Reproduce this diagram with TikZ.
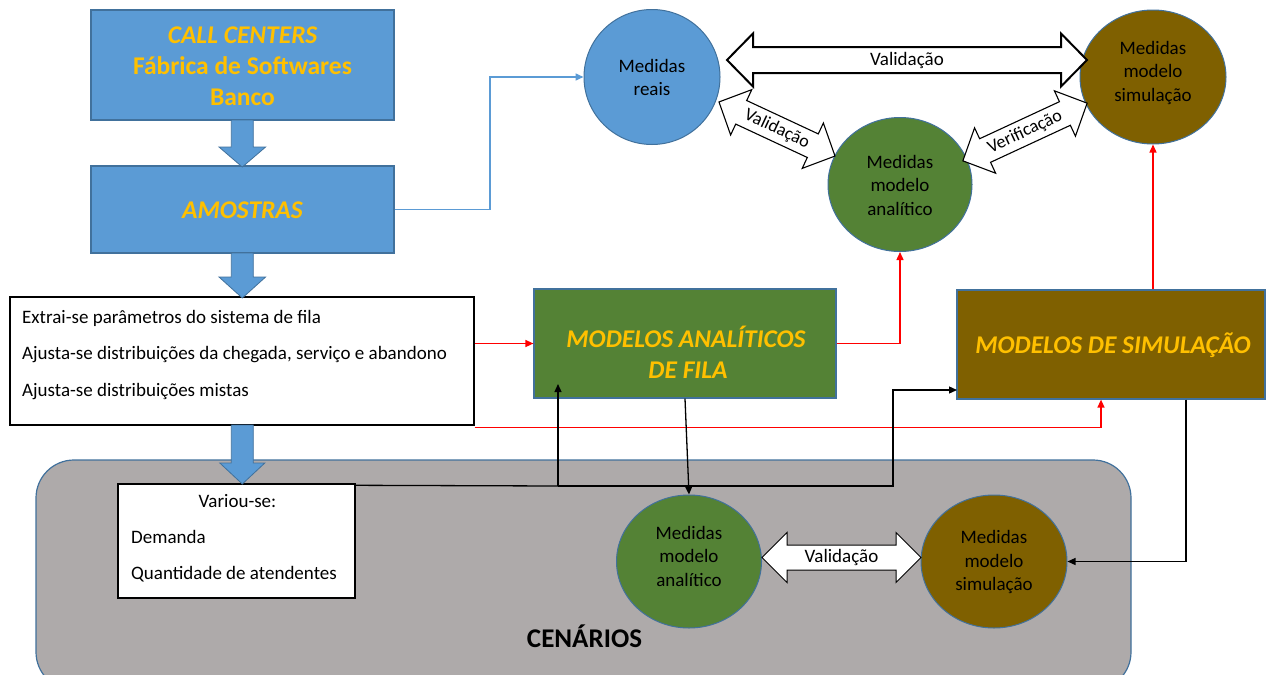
\documentclass[tikz,border=0pt]{standalone}
\usepackage{fontspec}
\setmainfont{Carlito}
\usetikzlibrary{shapes.geometric,arrows.meta,calc}
\definecolor{ublue}{HTML}{5B9BD5}
\definecolor{uedge}{HTML}{41719C}
\definecolor{ugreen}{HTML}{548235}
\definecolor{ubrown}{HTML}{7F6000}
\definecolor{ugold}{HTML}{FFC000}
\definecolor{ugray}{HTML}{AEAAAA}
\newcommand\lbl{\fontsize{19}{23.5}\selectfont}
\newcommand\dlbl{\fontsize{18}{22}\selectfont}
\newcommand\ttl{\fontsize{25.5}{31}\selectfont\bfseries}
% hollow double arrow: cx, cy, angle, half length, shaft half width, head half width, head length, line width, label
\newcommand\hollowarrow[9]{%
  \begin{scope}[shift={(#1,#2)},rotate=#3]
    \draw[line width=#8,fill=white,line join=miter]
      (-#4,0) -- (-#4+#7,-#6) -- (-#4+#7,-#5) -- (#4-#7,-#5) -- (#4-#7,-#6) -- (#4,0)
      -- (#4-#7,#6) -- (#4-#7,#5) -- (-#4+#7,#5) -- (-#4+#7,#6) -- cycle;
    \node[transform shape,font=\arrowfont] at (0,0) {#9};
  \end{scope}}
\newcommand\arrowfont{\lbl}
% filled block arrow pointing down: cx, top, head base, tip, shaft half width, head half width
\newcommand\blockdown[6]{%
  \draw[fill=ublue,draw=uedge,line width=0.8pt,line join=miter]
    (#1-#5,#2) -- (#1+#5,#2) -- (#1+#5,#3) -- (#1+#6,#3) -- (#1,#4)
    -- (#1-#6,#3) -- (#1-#5,#3) -- cycle;}
\begin{document}
\begin{tikzpicture}[x=1pt,y=-1pt,
  every node/.style={inner sep=0pt},
  bluebox/.style={rectangle,fill=ublue,draw=uedge,line width=1.2pt},
  whitebox/.style={rectangle,fill=white,draw=black,line width=1.4pt},
  greenbox/.style={rectangle,fill=ugreen,draw=uedge,line width=1.2pt},
  brownbox/.style={rectangle,fill=ubrown,draw=uedge,line width=1.2pt},
  disc/.style={ellipse,draw=uedge,line width=1pt},
  ttlgold/.style={anchor=base,text=ugold,font=\ttl},
  txt/.style={font=\lbl,text=black},
  redc/.style={draw=red,line width=1.4pt,-{Triangle[length=8pt,width=7pt]}},
  blkc/.style={draw=black,line width=1.3pt,-{Triangle[length=8pt,width=7pt]}},
  bluc/.style={draw=ublue,line width=1.5pt,-{Triangle[length=8pt,width=7pt]}}]
\clip (0,0) rectangle (1270,675);
\fill[white] (0,0) rectangle (1270,675);

% scenario area
\draw[fill=ugray,draw=uedge,line width=1.2pt,rounded corners=38pt] (36,460) rectangle (1131,690);
\node[anchor=base,font=\fontsize{27}{32}\selectfont\bfseries] (cenlbl) at (584.5,647) {CENÁRIOS};

% boxes
\node[bluebox,minimum width=303pt,minimum height=110pt] (cc) at (242.5,65) {};
\node[bluebox,minimum width=303pt,minimum height=87pt] (am) at (242.5,209.5) {};
\node[whitebox,minimum width=464pt,minimum height=128pt] (ext) at (242,361) {};
\node[whitebox,minimum width=237pt,minimum height=114pt] (var) at (236.5,541) {};
\node[greenbox,minimum width=302pt,minimum height=109pt] (ma) at (685,343.5) {};
\node[brownbox,minimum width=308pt,minimum height=109pt] (ms) at (1111,344.5) {};

% block arrows
\blockdown{242.3}{120}{147}{167}{11}{23.3}
\blockdown{242.3}{253}{277}{298}{11}{23.3}
\blockdown{242.3}{425}{463}{484}{11}{22.5}

% measure discs
\node[disc,fill=ublue,minimum width=136pt,minimum height=135pt] (mr) at (652,77) {};
\node[disc,fill=ubrown,minimum width=146pt,minimum height=134pt] (msT) at (1153,77) {};
\node[disc,fill=ugreen,minimum width=144pt,minimum height=134pt] (maT) at (900,184.5) {};
\node[disc,fill=ugreen,minimum width=145pt,minimum height=133pt] (maB) at (689,561.5) {};
\node[disc,fill=ubrown,minimum width=146pt,minimum height=133pt] (msB) at (994,561.5) {};

% connectors
\draw[bluc] (am.east) -- (490,209.5) |- (mr.west);
\draw[redc] (ext.east |- ma.west) -- (ma.west);
\draw[redc] (ma.east) -| (maT.south);
\draw[redc] ([yshift=-1.5pt]ext.south east) -| ([xshift=-10pt]ms.south);
\draw[redc] (msT.south |- ms.north) -- (msT.south);
\coordinate (j1) at (558,486);
\coordinate (matip) at (558,384);
\coordinate (msin) at (957,390);
\draw[draw=black,line width=1.3pt] ([yshift=-2pt]var.north east) -- (j1);
\draw[blkc] (j1) -- (matip);
\draw[blkc] (j1) -| (893,390) -- (msin);
\draw[blkc] (ma.south) -- (maB.north);
\draw[blkc] ([xshift=75pt]ms.south) |- (msB.east);

% hollow double arrows
\hollowarrow{907}{60}{0}{180}{13}{26.5}{26}{2pt}{Validação}
\renewcommand\arrowfont{\dlbl}
\hollowarrow{777}{129}{-25}{64}{13}{25}{24.5}{1.1pt}{Validação}
\hollowarrow{1025}{132}{24.9}{68.5}{13}{25}{24.5}{1.1pt}{Verificação}
\renewcommand\arrowfont{\lbl}
\hollowarrow{841.5}{557.5}{0}{79.5}{12.5}{25}{25}{1pt}{Validação}

% box texts
\node[ttlgold] at (242.5,43) {\itshape CALL CENTERS};
\node[ttlgold] at (242.5,74) {Fábrica de Softwares};
\node[ttlgold] at (242.5,105) {Banco};
\node[ttlgold] at (242.5,218) {\itshape AMOSTRAS};
\node[ttlgold] at (686,347) {\itshape MODELOS ANALÍTICOS};
\node[ttlgold] at (688,378) {\itshape DE FILA};
\node[ttlgold] at (1113,353) {\itshape MODELOS DE SIMULAÇÃO};

\node[txt,anchor=base west] at (22,323) {Extrai-se parâmetros do sistema de fila};
\node[txt,anchor=base west] at (22,359) {Ajusta-se distribuições da chegada, serviço e abandono};
\node[txt,anchor=base west] at (22,396) {Ajusta-se distribuições mistas};
\node[txt,anchor=base] at (237.5,507) {Variou-se:};
\node[txt,anchor=base west] at (131,543) {Demanda};
\node[txt,anchor=base west] at (131,579) {Quantidade de atendentes};

% disc texts
\node[txt,align=center] at (652,77.5) {Medidas\\reais};
\node[txt,align=center] at (1153,72.5) {Medidas\\modelo\\simulação};
\node[txt,align=center] at (900,185) {Medidas\\modelo\\analítico};
\node[txt,align=center] at (689,556) {Medidas\\modelo\\analítico};
\node[txt,align=center] at (994,562) {Medidas\\modelo\\simulação};
\end{tikzpicture}
\end{document}
